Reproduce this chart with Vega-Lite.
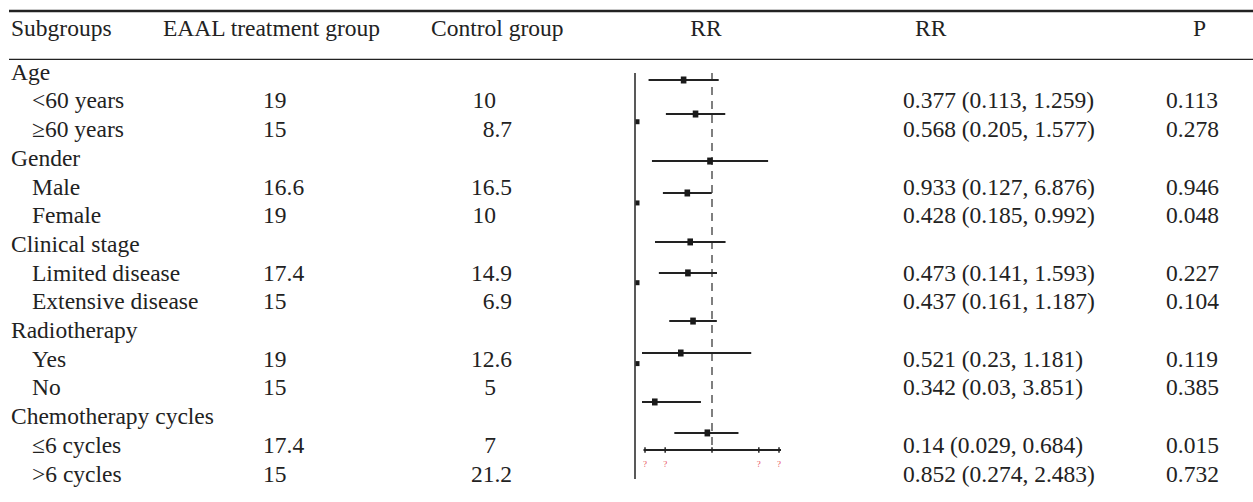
{
  "$schema": "https://vega.github.io/schema/vega-lite/v6.json",
  "width": 1253,
  "height": 502,
  "autosize": {"type": "none"},
  "padding": 0,
  "background": "white",
  "config": {
    "view": {"stroke": null},
    "text": {"font": "Liberation Serif", "fontSize": 23.5, "color": "#222222", "baseline": "alphabetic", "align": "left"}
  },
  "datasets": {
    "rows": [
      {"row": 0, "level": "group", "label": "Age"},
      {"row": 1, "level": "sub", "label": "<60 years", "eaal": "19", "ctrl": "10", "rrtext": "0.377 (0.113, 1.259)", "p": "0.113"},
      {"row": 2, "level": "sub", "label": "≥60 years", "eaal": "15", "ctrl": "8.7", "rrtext": "0.568 (0.205, 1.577)", "p": "0.278"},
      {"row": 3, "level": "group", "label": "Gender"},
      {"row": 4, "level": "sub", "label": "Male", "eaal": "16.6", "ctrl": "16.5", "rrtext": "0.933 (0.127, 6.876)", "p": "0.946"},
      {"row": 5, "level": "sub", "label": "Female", "eaal": "19", "ctrl": "10", "rrtext": "0.428 (0.185, 0.992)", "p": "0.048"},
      {"row": 6, "level": "group", "label": "Clinical stage"},
      {"row": 7, "level": "sub", "label": "Limited disease", "eaal": "17.4", "ctrl": "14.9", "rrtext": "0.473 (0.141, 1.593)", "p": "0.227"},
      {"row": 8, "level": "sub", "label": "Extensive disease", "eaal": "15", "ctrl": "6.9", "rrtext": "0.437 (0.161, 1.187)", "p": "0.104"},
      {"row": 9, "level": "group", "label": "Radiotherapy"},
      {"row": 10, "level": "sub", "label": "Yes", "eaal": "19", "ctrl": "12.6", "rrtext": "0.521 (0.23, 1.181)", "p": "0.119"},
      {"row": 11, "level": "sub", "label": "No", "eaal": "15", "ctrl": "5", "rrtext": "0.342 (0.03, 3.851)", "p": "0.385"},
      {"row": 12, "level": "group", "label": "Chemotherapy cycles"},
      {"row": 13, "level": "sub", "label": "≤6 cycles", "eaal": "17.4", "ctrl": "7", "rrtext": "0.14 (0.029, 0.684)", "p": "0.015"},
      {"row": 14, "level": "sub", "label": ">6 cycles", "eaal": "15", "ctrl": "21.2", "rrtext": "0.852 (0.274, 2.483)", "p": "0.732"}
    ],
    "forest": [
      {"label": "<60 years", "slot": 0, "rr": 0.377, "lo": 0.113, "hi": 1.259},
      {"label": "≥60 years", "slot": 2.12, "rr": 0.568, "lo": 0.205, "hi": 1.577},
      {"label": "Male", "slot": 5.05, "rr": 0.933, "lo": 0.127, "hi": 6.876},
      {"label": "Female", "slot": 7.04, "rr": 0.428, "lo": 0.185, "hi": 0.992},
      {"label": "Limited disease", "slot": 10.09, "rr": 0.473, "lo": 0.141, "hi": 1.593},
      {"label": "Extensive disease", "slot": 12.02, "rr": 0.437, "lo": 0.161, "hi": 1.187},
      {"label": "Yes", "slot": 15.02, "rr": 0.521, "lo": 0.23, "hi": 1.181},
      {"label": "No", "slot": 17.01, "rr": 0.342, "lo": 0.03, "hi": 3.851},
      {"label": "≤6 cycles", "slot": 20.06, "rr": 0.14, "lo": 0.029, "hi": 0.684},
      {"label": ">6 cycles", "slot": 21.99, "rr": 0.852, "lo": 0.274, "hi": 2.483}
    ],
    "ticks": [
      {"v": 0.1, "lab": "?"},
      {"v": 0.2, "lab": "?"},
      {"v": 1, "lab": ""},
      {"v": 5, "lab": "?"},
      {"v": 10, "lab": "?"}
    ],
    "stray": [
      {"slot": 2.6},
      {"slot": 7.66},
      {"slot": 12.63},
      {"slot": 17.67}
    ]
  },
  "layer": [
    {
      "layer": [
        {
          "data": {"values": [{}]},
          "mark": {"type": "rule", "strokeWidth": 2.5, "color": "#222222"},
          "encoding": {
            "x": {"datum": 9, "type": "quantitative", "scale": {"domain": [0, 1253], "nice": false, "zero": false}, "axis": null},
            "x2": {"datum": 1253},
            "y": {"datum": -2.394, "type": "quantitative", "scale": {"domain": [-2.777, 14.714], "reverse": true, "nice": false, "zero": false}, "axis": null}
          }
        },
        {
          "data": {"values": [{}]},
          "mark": {"type": "rule", "strokeWidth": 1.3, "color": "#222222"},
          "encoding": {
            "x": {"datum": 9, "type": "quantitative"},
            "x2": {"datum": 1253},
            "y": {"datum": -0.711, "type": "quantitative"}
          }
        },
        {
          "data": {"values": [{}]},
          "mark": {"type": "rule", "strokeWidth": 1.5, "color": "#222222"},
          "encoding": {
            "x": {"datum": 635, "type": "quantitative"},
            "y": {"datum": -0.233, "type": "quantitative"},
            "y2": {"datum": 13.913}
          }
        },
        {
          "data": {"values": [{"h": "Subgroups"}]},
          "mark": {"type": "text"},
          "encoding": {"x": {"datum": 11, "type": "quantitative"}, "y": {"datum": -1.523, "type": "quantitative"}, "text": {"field": "h"}}
        },
        {
          "data": {"values": [{"h": "EAAL treatment group"}]},
          "mark": {"type": "text"},
          "encoding": {"x": {"datum": 163, "type": "quantitative"}, "y": {"datum": -1.523, "type": "quantitative"}, "text": {"field": "h"}}
        },
        {
          "data": {"values": [{"h": "Control group"}]},
          "mark": {"type": "text"},
          "encoding": {"x": {"datum": 431, "type": "quantitative"}, "y": {"datum": -1.523, "type": "quantitative"}, "text": {"field": "h"}}
        },
        {
          "data": {"values": [{"h": "RR"}]},
          "mark": {"type": "text", "align": "center"},
          "encoding": {"x": {"datum": 706, "type": "quantitative"}, "y": {"datum": -1.523, "type": "quantitative"}, "text": {"field": "h"}}
        },
        {
          "data": {"values": [{"h": "RR"}]},
          "mark": {"type": "text"},
          "encoding": {"x": {"datum": 915, "type": "quantitative"}, "y": {"datum": -1.523, "type": "quantitative"}, "text": {"field": "h"}}
        },
        {
          "data": {"values": [{"h": "P"}]},
          "mark": {"type": "text"},
          "encoding": {"x": {"datum": 1193, "type": "quantitative"}, "y": {"datum": -1.523, "type": "quantitative"}, "text": {"field": "h"}}
        },
        {
          "data": {"name": "rows"},
          "transform": [{"filter": "datum.level === 'group'"}],
          "mark": {"type": "text"},
          "encoding": {"x": {"datum": 11, "type": "quantitative"}, "y": {"field": "row", "type": "quantitative"}, "text": {"field": "label"}}
        },
        {
          "data": {"name": "rows"},
          "transform": [{"filter": "datum.level === 'sub'"}],
          "mark": {"type": "text"},
          "encoding": {"x": {"datum": 32, "type": "quantitative"}, "y": {"field": "row", "type": "quantitative"}, "text": {"field": "label"}}
        },
        {
          "data": {"name": "rows"},
          "transform": [{"filter": "datum.level === 'sub'"}],
          "mark": {"type": "text"},
          "encoding": {"x": {"datum": 263, "type": "quantitative"}, "y": {"field": "row", "type": "quantitative"}, "text": {"field": "eaal"}}
        },
        {
          "data": {"name": "rows"},
          "transform": [{"filter": "datum.level === 'sub' && indexof(datum.ctrl, '.') >= 0"}],
          "mark": {"type": "text", "align": "right"},
          "encoding": {"x": {"datum": 512, "type": "quantitative"}, "y": {"field": "row", "type": "quantitative"}, "text": {"field": "ctrl"}}
        },
        {
          "data": {"name": "rows"},
          "transform": [{"filter": "datum.level === 'sub' && indexof(datum.ctrl, '.') < 0"}],
          "mark": {"type": "text", "align": "right"},
          "encoding": {"x": {"datum": 496, "type": "quantitative"}, "y": {"field": "row", "type": "quantitative"}, "text": {"field": "ctrl"}}
        },
        {
          "data": {"name": "rows"},
          "transform": [{"filter": "datum.level === 'sub'"}],
          "mark": {"type": "text"},
          "encoding": {"x": {"datum": 903, "type": "quantitative"}, "y": {"field": "row", "type": "quantitative"}, "text": {"field": "rrtext"}}
        },
        {
          "data": {"name": "rows"},
          "transform": [{"filter": "datum.level === 'sub'"}],
          "mark": {"type": "text"},
          "encoding": {"x": {"datum": 1166, "type": "quantitative"}, "y": {"field": "row", "type": "quantitative"}, "text": {"field": "p"}}
        }
      ]
    },
    {
      "layer": [
        {
          "data": {"values": [{}]},
          "mark": {"type": "rule", "strokeWidth": 1.5, "color": "#555555", "strokeDash": [8, 6]},
          "encoding": {
            "x": {"datum": 1, "type": "quantitative", "scale": {"type": "log", "domain": [0.0902, 10.71], "range": [642, 781], "clamp": true, "nice": false}, "axis": null},
            "y": {"datum": -0.44, "type": "quantitative", "scale": {"domain": [-4.984, 26.293], "reverse": true, "nice": false, "zero": false}, "axis": null},
            "y2": {"datum": 23.05}
          }
        },
        {
          "data": {"name": "forest"},
          "mark": {"type": "rule", "strokeWidth": 2, "color": "#222222"},
          "encoding": {
            "x": {"field": "lo", "type": "quantitative"},
            "x2": {"field": "hi"},
            "y": {"field": "slot", "type": "quantitative"}
          }
        },
        {
          "data": {"name": "forest"},
          "mark": {"type": "point", "filled": true, "opacity": 1, "color": "#1a1a1a", "size": 49, "shape": "M-0.8,-1H0.8V1H-0.8Z"},
          "encoding": {
            "x": {"field": "rr", "type": "quantitative"},
            "y": {"field": "slot", "type": "quantitative"}
          }
        },
        {
          "data": {"name": "stray"},
          "mark": {"type": "point", "filled": true, "opacity": 1, "color": "#1a1a1a", "size": 25, "shape": "M-2.6,-1H-1V1H-2.6Z"},
          "encoding": {
            "x": {"datum": 0.0902, "type": "quantitative"},
            "y": {"field": "slot", "type": "quantitative"}
          }
        },
        {
          "data": {"values": [{}]},
          "mark": {"type": "rule", "strokeWidth": 2, "color": "#222222"},
          "encoding": {
            "x": {"datum": 0.095, "type": "quantitative"},
            "x2": {"datum": 10.71},
            "y": {"datum": 23.05, "type": "quantitative"}
          }
        },
        {
          "data": {"name": "ticks"},
          "mark": {"type": "rule", "strokeWidth": 1.5, "color": "#222222"},
          "encoding": {
            "x": {"field": "v", "type": "quantitative"},
            "y": {"datum": 22.88, "type": "quantitative"},
            "y2": {"datum": 23.22}
          }
        },
        {
          "data": {"name": "ticks"},
          "transform": [{"filter": "datum.lab !== ''"}],
          "mark": {"type": "text", "align": "center", "baseline": "middle", "fontSize": 9, "color": "#e8505b"},
          "encoding": {
            "x": {"field": "v", "type": "quantitative"},
            "y": {"datum": 23.93, "type": "quantitative"},
            "text": {"field": "lab"}
          }
        }
      ]
    }
  ],
  "resolve": {"scale": {"x": "independent", "y": "independent"}}
}
